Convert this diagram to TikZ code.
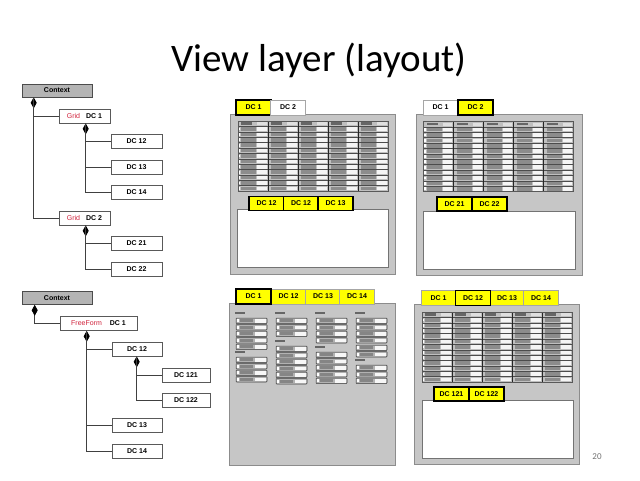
\documentclass[tikz,border=0pt]{standalone}
\usepackage{fontspec}
\setmainfont{Carlito}
\newfontfamily\arialf{Liberation Sans}
\usetikzlibrary{arrows.meta,calc}
\definecolor{panelfill}{HTML}{C6C6C6}
\definecolor{panelline}{HTML}{8C8C8C}
\definecolor{ctxfill}{HTML}{B4B4B4}
\definecolor{gridred}{HTML}{D0203A}
\definecolor{tabyellow}{HTML}{FFFF00}
\tikzset{
  treebox/.style={draw=black!65, fill=white, line width=0.6pt, minimum width=51pt, minimum height=14pt, inner sep=0pt, font=\arialf\bfseries\fontsize{7}{8}\selectfont},
  ctxbox/.style={treebox, fill=ctxfill, draw=black!70, minimum width=70pt, minimum height=13pt},
  conn/.style={draw=black!75, line width=0.8pt},
  dia/.style={{Diamond[length=11pt,width=6pt,fill=black,color=black]}-},
  tabbox/.style={minimum width=35pt, minimum height=15pt, inner sep=0pt, font=\arialf\bfseries\fontsize{7}{8}\selectfont},
  ytab/.style={tabbox, fill=tabyellow, draw=black!35, line width=0.5pt},
  seltab/.style={tabbox, fill=tabyellow, draw=black, line width=1.8pt},
  wtab/.style={tabbox, fill=white, draw=black!35, line width=0.5pt},
  subtab/.style={seltab, minimum height=14pt},
  panel/.style={fill=panelfill, draw=panelline, line width=1pt},
  whitearea/.style={fill=white, draw=black!55, line width=0.6pt},
}
\newcommand\gtable[2]{%
\begin{scope}[shift={(#1,#2)}]
\fill[black!25] (0,0) rectangle (150,70);
\foreach \cc in {0,...,4}{
  \foreach \rr in {1,...,12}{
    \fill[black!45] ({30*\cc+3},{\rr*70/13+0.9}) rectangle ({30*\cc+18},{(\rr+1)*70/13-0.9});
    \fill[black!4] ({30*\cc+19},{\rr*70/13+0.9}) rectangle ({30*\cc+28.5},{(\rr+1)*70/13-0.9});
  }
  \fill[black!60] ({30*\cc+3},1.4) rectangle ({30*\cc+14},3.9);
  \fill[black!12] ({30*\cc+19},1) rectangle ({30*\cc+28.5},4.4);
}
\foreach \rr in {1,...,12}{
  \fill[white] (0.8,{\rr*70/13+1.3}) rectangle (2,{(\rr+1)*70/13-1.3});
  \draw[black!70, line width=0.35pt] (0,{\rr*70/13}) -- (150,{\rr*70/13});
}
\foreach \cc in {1,...,4} \draw[black!85, line width=0.8pt] ({30*\cc},0) -- ({30*\cc},70);
\draw[black!65, line width=0.7pt] (0,0) rectangle (150,70);
\end{scope}}
\newcommand\frow[2]{%
\draw[black!75, fill=black!30, rounded corners=0.8pt, line width=0.5pt] (#1,#2) rectangle ({#1+31},{#2+5.5});
\fill[white] ({#1+1.2},{#2+1.2}) rectangle ({#1+2.6},{#2+4.3});
\fill[black!48] ({#1+4},{#2+1.2}) rectangle ({#1+17},{#2+4.3});
\fill[black!3] ({#1+18.5},{#2+1}) rectangle ({#1+30},{#2+4.5});}
\newcommand\flabel[2]{\fill[black!60] (#1,{#2}) rectangle ({#1+10},{#2+2.4});}
\begin{document}
\begin{tikzpicture}[x=1pt,y=-1pt]
\useasboundingbox (0,0) rectangle (640,480);
\fill[white] (0,0) rectangle (640,480);
% title
\node[font=\fontsize{39}{44}\selectfont, inner sep=0pt] (title) at (319,60) {View layer (layout)};
\node[font=\fontsize{9}{10}\selectfont, text=black!55, inner sep=0pt] (pnum) at (597,457) {20};
% ---------- tree 1
\node[ctxbox] (ctx1) at (57,90.5) {Context};
\node[treebox] (g1) at (84.5,116) {\textcolor{gridred}{\mdseries Grid}\hspace{6pt}DC 1};
\node[treebox] (d12) at (136.5,141) {DC 12};
\node[treebox] (d13) at (136.5,167) {DC 13};
\node[treebox] (d14) at (136.5,192.5) {DC 14};
\node[treebox] (g2) at (84.5,218) {\textcolor{gridred}{\mdseries Grid}\hspace{6pt}DC 2};
\node[treebox] (d21) at (136.5,243.5) {DC 21};
\node[treebox] (d22) at (136.5,269) {DC 22};
\draw[conn,dia] ($(ctx1.south west)+(12,0)$) |- (g2.west);
\draw[conn] ($(ctx1.south west)+(12,0)$) |- (g1.west);
\draw[conn,dia] ($(g1.south west)+(27,0)$) |- (d14.west);
\draw[conn] ($(g1.south west)+(27,0)$) |- (d13.west);
\draw[conn] ($(g1.south west)+(27,0)$) |- (d12.west);
\draw[conn,dia] ($(g2.south west)+(27,0)$) |- (d22.west);
\draw[conn] ($(g2.south west)+(27,0)$) |- (d21.west);
% ---------- tree 2
\node[ctxbox] (ctx2) at (57,298) {Context};
\node[treebox, minimum width=77pt] (ff) at (98.5,323.5) {\textcolor{gridred}{\mdseries FreeForm}\hspace{8pt}DC 1};
\node[treebox, minimum width=50pt] (e12) at (137,349) {DC 12};
\node[treebox, minimum width=48pt] (e121) at (186,375) {DC 121};
\node[treebox, minimum width=48pt] (e122) at (186,400) {DC 122};
\node[treebox, minimum width=50pt] (e13) at (137,425.5) {DC 13};
\node[treebox, minimum width=50pt] (e14) at (137,451) {DC 14};
\draw[conn,dia] ($(ctx2.south west)+(13,0)$) |- (ff.west);
\draw[conn,dia] ($(ff.south west)+(27,0)$) |- (e14.west);
\draw[conn] ($(ff.south west)+(27,0)$) |- (e13.west);
\draw[conn] ($(ff.south west)+(27,0)$) |- (e12.west);
\draw[conn,dia] ($(e12.south west)+(25,0)$) |- (e122.west);
\draw[conn] ($(e12.south west)+(25,0)$) |- (e121.west);
% ---------- panel 1
\draw[panel] (230,114) rectangle (395,274);
\node[seltab] (p1a) at (253.5,107.5) {DC 1};
\node[wtab] (p1b) at (288,107.5) {DC 2};
\gtable{238}{121}
\draw[whitearea] (237,209) rectangle (388,267);
\node[subtab] (p1c) at (266.5,203.5) {DC 12};
\node[subtab] (p1d) at (301,203.5) {DC 12};
\node[subtab] (p1e) at (335.5,203.5) {DC 13};
% ---------- panel 2
\draw[panel] (416,114) rectangle (582,275);
\node[wtab] (p2a) at (440.5,107.5) {DC 1};
\node[seltab] (p2b) at (475.5,107.5) {DC 2};
\gtable{423.5}{121.5}
\draw[whitearea] (423,211) rectangle (575,269);
\node[subtab] (p2c) at (454.5,204) {DC 21};
\node[subtab] (p2d) at (489.5,204) {DC 22};
% ---------- panel 3
\draw[panel] (229,303) rectangle (395,465);
\node[ytab] (p3b) at (288.5,296.5) {DC 12};
\node[ytab] (p3c) at (323,296.5) {DC 13};
\node[ytab] (p3d) at (357,296.5) {DC 14};
\node[seltab] (p3a) at (253.5,296.5) {DC 1};
% column 1
\flabel{235}{311.5}
\foreach \yy in {318,324.5,331,337.5,344} {\frow{236}{\yy}}
\flabel{235}{351}
\foreach \yy in {357,363.5,370,376.5} {\frow{236}{\yy}}
% column 2
\flabel{275}{311.5}
\foreach \yy in {318,324.5,331} {\frow{276}{\yy}}
\flabel{275}{340}
\foreach \yy in {346,352.5,359,365.5,372,378.5} {\frow{276}{\yy}}
% column 3
\flabel{315}{311.5}
\foreach \yy in {318,324.5,331,337.5} {\frow{316}{\yy}}
\flabel{315}{346}
\foreach \yy in {352,358.5,365,371.5,378} {\frow{316}{\yy}}
% column 4
\flabel{355}{311.5}
\foreach \yy in {318,324.5,331,337.5} {\frow{356}{\yy}}
\foreach \yy in {345,351.5} {\frow{356}{\yy}}
\flabel{355}{359}
\foreach \yy in {365,371.5,378} {\frow{356}{\yy}}
% ---------- panel 4
\draw[panel] (414,304) rectangle (579,464);
\node[ytab] (p4a) at (438.5,298) {DC 1};
\node[ytab] (p4c) at (507,298) {DC 13};
\node[ytab] (p4d) at (541,298) {DC 14};
\node[seltab] (p4b) at (473,298) {DC 12};
\gtable{422}{312}
\draw[whitearea] (422,400) rectangle (573,458);
\node[subtab] (p4e) at (451.5,394) {DC 121};
\node[subtab] (p4f) at (486.5,394) {DC 122};
\end{tikzpicture}
\end{document}
